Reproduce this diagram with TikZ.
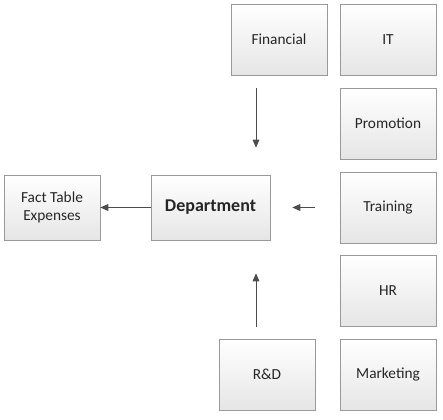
\documentclass[tikz,border=0pt]{standalone}
\usepackage{fontspec}
\setmainfont{Carlito}
\usetikzlibrary{arrows.meta,shadows}

\tikzset{
	tablebox/.style={draw=black!40, top color=white, bottom color=black!10,
		minimum width=72pt, minimum height=53.25pt, inner sep=0pt, align=center,
		font=\fontsize{11.5}{13.5}\selectfont, text=black!85,
		drop shadow={shadow xshift=0.6pt, shadow yshift=-0.6pt, opacity=0.9, fill=black!65}},
	flow/.style={draw=black!70, line width=0.75pt, -{Triangle[length=6pt,width=5pt]}}
}

\begin{document}
\begin{tikzpicture}[x=0.75pt, y=-0.75pt]
	\useasboundingbox (0,0) rectangle (443,419);

	\node[tablebox, minimum height=48.75pt] at (52,207.5) (fact) {Fact Table\\Expenses}; %fact table
	\node[tablebox, minimum width=89.25pt, minimum height=48.75pt,
		font=\fontsize{13.5}{15}\selectfont\bfseries] at (210.5,207.5) (dept) {Department};
	\node[tablebox] at (279,39.5) (fin) {Financial};
	\node[tablebox] at (388,39.5) (it) {IT};
	\node[tablebox] at (388,123.5) (promo) {Promotion};
	\node[tablebox] at (388,207.5) (train) {Training};
	\node[tablebox] at (388,290.5) (hr) {HR};
	\node[tablebox] at (388,374.5) (mkt) {Marketing};
	\node[tablebox] at (267,374.5) (rd) {R\&D};

	\coordinate (col) at (256,0); %arrow column

	\draw[flow] (dept.west) -- (fact.east);
	\draw[flow, shorten <=9.75pt, shorten >=20.25pt] (fin.south -| col) -- (dept.north -| col);
	\draw[flow, shorten <=18.75pt, shorten >=16.5pt] (train.west) -- (dept.east);
	\draw[flow, shorten <=9pt, shorten >=24.75pt] (rd.north -| col) -- (dept.south -| col);
\end{tikzpicture}
\end{document}
